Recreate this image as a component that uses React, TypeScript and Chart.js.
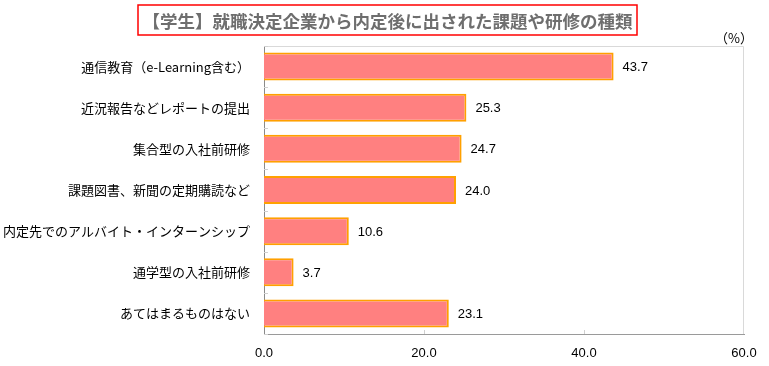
import React, { useEffect, useRef } from "react";
import { Chart, registerables } from "chart.js";

Chart.register(...registerables);

const titleText = "【学生】就職決定企業から内定後に出された課題や研修の種類";
const unitText = "（%）";
const categories = [
  "通信教育（e-Learning含む）",
  "近況報告などレポートの提出",
  "集合型の入社前研修",
  "課題図書、新聞の定期購読など",
  "内定先でのアルバイト・インターンシップ",
  "通学型の入社前研修",
  "あてはまるものはない",
];
const values = [43.7, 25.3, 24.7, 24.0, 10.6, 3.7, 23.1];
const xMin = 0;
const xMax = 60;
const xStep = 20;

const JP = '"Noto Sans CJK JP", "Noto Sans", sans-serif';
const NUM = '"Liberation Sans", Arial, sans-serif';

const decorPlugin = {
  id: "decor",
  afterDraw(chart: any) {
    const ctx = chart.ctx;
    const area = chart.chartArea;
    const xs = chart.scales.x;
    const ys = chart.scales.y;
    ctx.save();
    // top & right light border
    ctx.strokeStyle = "#d9d9d9";
    ctx.lineWidth = 1;
    ctx.beginPath();
    ctx.moveTo(area.left, area.top + 0.5);
    ctx.lineTo(area.right - 0.5, area.top + 0.5);
    ctx.lineTo(area.right - 0.5, area.bottom);
    ctx.stroke();
    // inner tick marks
    ctx.strokeStyle = "#d0d0d0";
    ctx.beginPath();
    for (let i = 0; i <= categories.length; i++) {
      const y = Math.round(ys.getPixelForValue(i - 0.5)) + 0.5;
      ctx.moveTo(area.left, y);
      ctx.lineTo(area.left + 4, y);
    }
    for (let v = xMin + xStep; v < xMax; v += xStep) {
      const x = Math.round(xs.getPixelForValue(v)) + 0.5;
      ctx.moveTo(x, area.bottom);
      ctx.lineTo(x, area.bottom - 4);
    }
    ctx.stroke();
    // value labels
    const meta = chart.getDatasetMeta(0);
    ctx.fillStyle = "#000";
    ctx.font = `13px ${NUM}`;
    ctx.textAlign = "left";
    ctx.textBaseline = "middle";
    meta.data.forEach((bar: any, i: number) => {
      ctx.fillText(values[i].toFixed(1), bar.x + 9, bar.y + 1);
    });
    // unit
    ctx.font = `13px ${JP}`;
    ctx.textAlign = "center";
    ctx.fillText(unitText, area.right - 10, area.top - 8);
    // title
    ctx.font = `bold 17.5px ${JP}`;
    ctx.fillStyle = "#6e6e6e";
    ctx.textAlign = "center";
    ctx.fillText(titleText, 387.5, 21);
    ctx.strokeStyle = "#ff0000";
    ctx.lineWidth = 1.5;
    ctx.strokeRect(138, 5, 499, 30);
    ctx.restore();
  },
};

export default function App() {
  const ref = useRef<HTMLCanvasElement>(null);
  useEffect(() => {
    document.body.style.margin = "0";
    const chart = new Chart(ref.current!, {
      type: "bar",
      data: {
        labels: categories,
        datasets: [
          {
            data: values,
            backgroundColor: "#ff8080",
            borderColor: "#ffa000",
            borderWidth: 2,
            borderSkipped: "start",
            barPercentage: 0.68,
            categoryPercentage: 1,
          },
        ],
      },
      options: {
        indexAxis: "y",
        animation: false,
        responsive: false,
        devicePixelRatio: 1,
        layout: { padding: { top: 46, right: 25, left: 0, bottom: 0 } },
        plugins: {
          legend: { display: false },
          tooltip: { enabled: false },
          title: { display: false },
        },
        scales: {
          x: {
            min: xMin,
            max: xMax,
            ticks: {
              stepSize: xStep,
              padding: 12,
              color: "#000",
              font: { family: NUM, size: 13 },
              callback: (v: any) => Number(v).toFixed(1),
            },
            grid: { display: false, drawTicks: false },
            border: { display: true, color: "#9a9a9a", width: 1 },
            afterFit: (s: any) => {
              s.height = 32;
            },
          },
          y: {
            ticks: {
              padding: 14,
              color: "#000",
              font: { family: JP, size: 13 },
            },
            grid: { display: false, drawTicks: false },
            border: { display: true, color: "#8a8a8a", width: 1 },
            afterFit: (s: any) => {
              s.width = 264;
            },
          },
        },
      },
      plugins: [decorPlugin],
    });
    return () => chart.destroy();
  }, []);
  return (
    <div style={{ width: 769, height: 366 }}>
      <canvas ref={ref} width={769} height={366} style={{ display: "block" }} />
    </div>
  );
}
